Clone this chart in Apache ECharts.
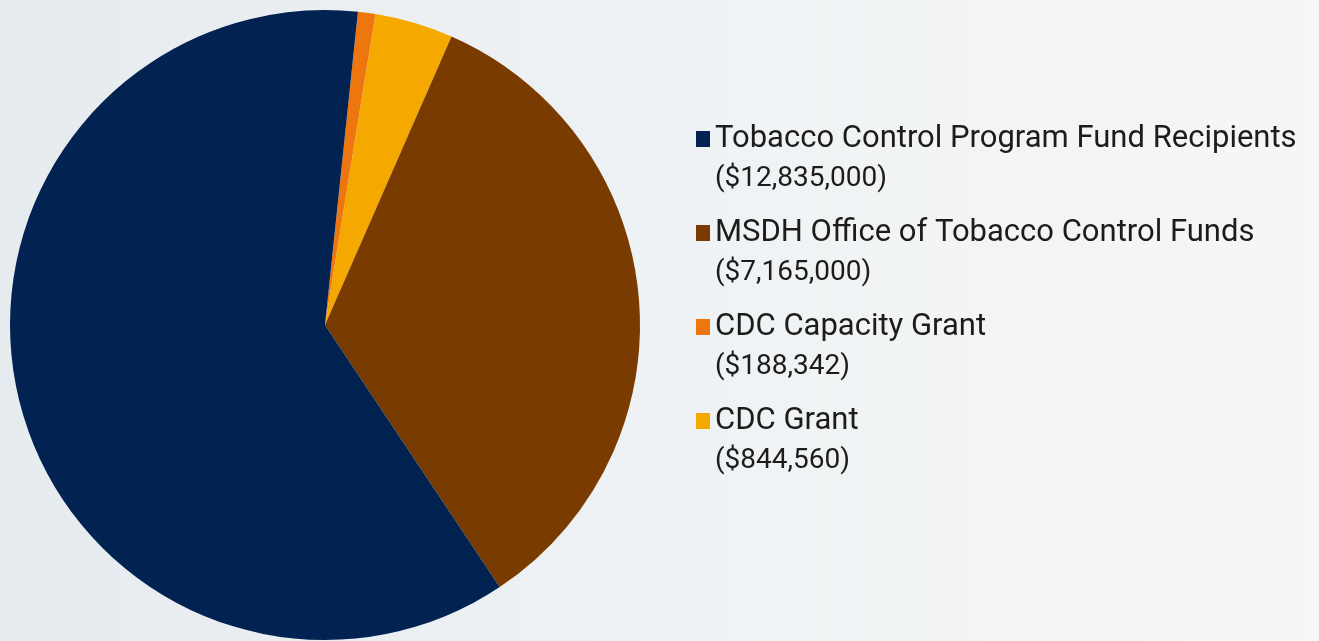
<!DOCTYPE html>
<html>
<head>
<meta charset="utf-8">
<script src="https://cdn.jsdelivr.net/npm/echarts@6/dist/echarts.min.js"></script>
<style>
  html, body { margin: 0; padding: 0; width: 1319px; height: 641px; overflow: hidden; }
  #chart { width: 1319px; height: 641px; }
</style>
</head>
<body>
<div id="chart"></div>
<script>
// Legend order (as shown)
const categories = [
  "Tobacco Control Program Fund Recipients",
  "MSDH Office of Tobacco Control Funds",
  "CDC Capacity Grant",
  "CDC Grant"
];
const amounts = [12835000, 7165000, 188342, 844560];
const amountLabels = ["($12,835,000)", "($7,165,000)", "($188,342)", "($844,560)"];
const colors = ["#022352", "#7a3b00", "#ee760e", "#f5a800"];
// Order of slices clockwise starting just right of 12 o'clock
const sliceOrder = [2, 3, 1, 0];

const chart = echarts.init(document.getElementById('chart'), null, { renderer: 'canvas' });

const pieData = sliceOrder.map(i => ({
  name: categories[i],
  value: amounts[i],
  itemStyle: { color: colors[i] }
}));

const labelByName = {};
categories.forEach((c, i) => { labelByName[c] = amountLabels[i]; });

chart.setOption({
  backgroundColor: {
    type: 'linear', x: 0, y: 0, x2: 1, y2: 0,
    colorStops: [
      { offset: 0, color: '#e6ebef' },
      { offset: 0.5, color: '#eff2f4' },
      { offset: 1, color: '#f5f6f7' }
    ]
  },
  animation: false,
  legend: {
    orient: 'vertical',
    left: 696,
    top: 79,
    padding: 0,
    itemGap: -26,
    itemWidth: 14,
    itemHeight: 16,
    icon: 'rect',
    selectedMode: false,
    data: categories,
    formatter: name => '{p| }\n{a|' + name + '}\n{b|' + labelByName[name] + '}',
    textStyle: {
      fontFamily: 'Roboto',
      fontSize: 31,
      color: '#1c1c1c',
      lineHeight: 40,
      rich: {
        p: { fontSize: 10, lineHeight: 40 },
        a: { fontFamily: 'Roboto', fontSize: 31, lineHeight: 40, color: '#1c1c1c' },
        b: { fontFamily: 'Roboto', fontSize: 28, lineHeight: 40, color: '#1c1c1c' }
      }
    }
  },
  series: [{
    type: 'pie',
    center: [325, 325],
    radius: 315,
    startAngle: 84,
    clockwise: true,
    avoidLabelOverlap: false,
    label: { show: false },
    labelLine: { show: false },
    emphasis: { disabled: true },
    itemStyle: { borderWidth: 0 },
    data: pieData
  }]
});
</script>
</body>
</html>
